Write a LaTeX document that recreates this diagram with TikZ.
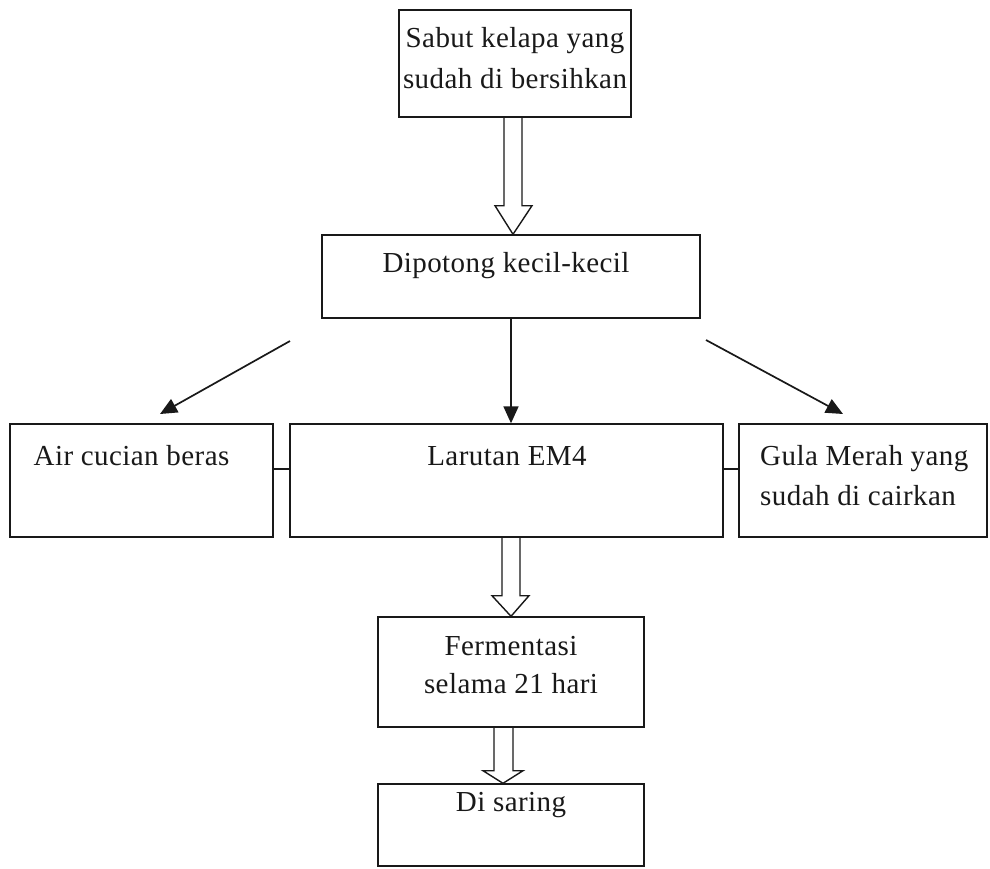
\documentclass[tikz,border=0pt]{standalone}
\usepackage{fontspec}
\setmainfont[LetterSpace=1.5]{Liberation Serif}
\usetikzlibrary{arrows.meta,calc}
\begin{document}
\begin{tikzpicture}[x=1pt,y=-1pt,
  box/.style={draw=black!90,line width=1.4pt,rectangle},
  txt/.style={font=\fontsize{29}{40}\selectfont,inner sep=0pt,anchor=base,text=black!90},
  thin/.style={draw=black!90,line width=1.4pt},
  arr/.style={draw=black!90,line width=1.7pt,-{Triangle[length=17pt,width=15pt]}},
  blk/.style={draw=black!90,line width=1.4pt,line join=miter}]
\useasboundingbox (0,0) rectangle (990,868);
\fill[white] (0,0) rectangle (990,868);
% boxes
\node[box,minimum width=232pt,minimum height=107pt] (B1) at (515,63.5) {};
\node[box,minimum width=378pt,minimum height=83pt] (B2) at (511,276.5) {};
\node[box,minimum width=263pt,minimum height=113pt] (air) at (141.5,480.5) {};
\node[box,minimum width=433pt,minimum height=113pt] (lar) at (506.5,480.5) {};
\node[box,minimum width=248pt,minimum height=113pt] (gula) at (863,480.5) {};
\node[box,minimum width=266pt,minimum height=110pt] (ferm) at (511,672) {};
\node[box,minimum width=266pt,minimum height=82pt] (sar) at (511,825) {};
% texts
\node[txt] (t1a) at (515,47) {Sabut kelapa yang};
\node[txt] (t1b) at (515,88) {sudah di bersihkan};
\node[txt] (t2) at (506,272) {Dipotong kecil-kecil};
\node[txt] (t3) at (131.5,465) {Air cucian beras};
\node[txt] (t4) at (507,465) {Larutan EM4};
\node[txt,anchor=base west] (t5a) at (760,465) {Gula Merah yang};
\node[txt,anchor=base west] (t5b) at (760,505) {sudah di cairkan};
\node[txt] (t6a) at (511,655) {Fermentasi};
\node[txt] (t6b) at (511,693) {selama 21 hari};
\node[txt] (t7) at (511,811) {Di saring};
% block arrows
\draw[blk] ($(B1.south)+(-11,0)$) -- ++(0,88) -- ++(-9,0) -- ($(B2.north)+(2,0)$) -- ($(B1.south)+(17,88)$) -- ++(-10,0) -- ($(B1.south)+(7,0)$);
\draw[blk] ($(lar.south)+(-4.5,0)$) -- ++(0,58) -- ++(-10,0) -- ($(ferm.north)+(0,0)$) -- ($(lar.south)+(22.5,58)$) -- ++(-9,0) -- ($(lar.south)+(13.5,0)$);
\draw[blk] ($(ferm.south)+(-17,0)$) -- ++(0,43) -- ++(-11,0) -- ($(sar.north)+(-8,0)$) -- ($(ferm.south)+(12,43)$) -- ++(-10,0) -- ($(ferm.south)+(2,0)$);
% connectors
\draw[arr] (B2.south) -- (B2.south |- lar.north);
\coordinate (dl) at (290,341);
\coordinate (dr) at (706,340);
\coordinate (dlt) at (160,414);
\coordinate (drt) at (843,414);
\draw[arr] (dl) -- (dlt);
\draw[arr] (dr) -- (drt);
\draw[thin] (air.east |- 0,469) -- (lar.west |- 0,469);
\draw[thin] (lar.east |- 0,469) -- (gula.west |- 0,469);
\end{tikzpicture}
\end{document}
